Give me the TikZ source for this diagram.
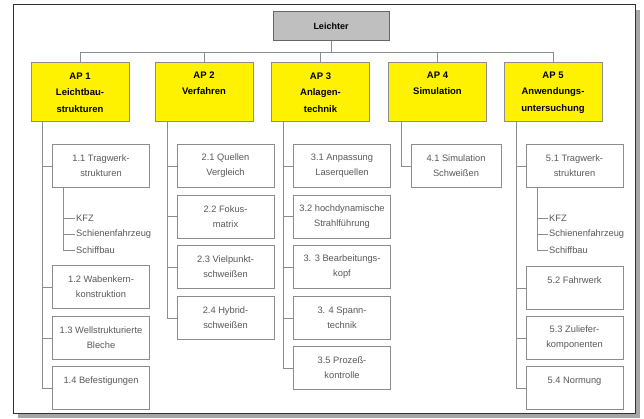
\documentclass[tikz,border=0pt]{standalone}
\usepackage{fontspec}
\setmainfont{Liberation Sans}
\begin{document}
\begin{tikzpicture}[x=1pt,y=-1pt,
  line/.style={draw=black!45,line width=0.9pt},
  topbox/.style={draw=black!60,fill=black!25,line width=1pt,minimum width=116,minimum height=29,inner sep=0,font=\fontsize{9}{10}\selectfont\bfseries},
  apbox/.style={draw=black!45,fill=yellow,line width=1pt,minimum width=98,minimum height=59,inner sep=0,align=center,font=\fontsize{9.5}{16.5}\selectfont\bfseries},
  subbox/.style={draw=black!45,fill=white,line width=0.9pt,minimum width=97,minimum height=43,inner sep=0,align=center,text=black!65,font=\fontsize{9.3}{15}\selectfont},
  item/.style={inner sep=1pt,anchor=west,text=black!65,font=\fontsize{9.3}{15}\selectfont}
]
\useasboundingbox (0,0) rectangle (644,419);
% frame with shadow
\fill[black!35] (18,10) rectangle (640,418);
\draw[fill=white,draw=black!80,line width=1pt] (13,5) rectangle (635,413);

% top
\node[topbox] (top) at (331,26.5) {Leichter};

% AP boxes
\node[apbox] (ap1) at (80,92.5) {AP 1\\Leichtbau-\\strukturen};
\node[apbox] (ap2) at (204,92.5) {AP 2\\Verfahren\\[2pt]~};
\node[apbox] (ap3) at (320.5,92.5) {AP 3\\Anlagen-\\technik};
\node[apbox] (ap4) at (437.5,92.5) {AP 4\\Simulation\\[2pt]~};
\node[apbox] (ap5) at (553,92.5) {AP 5\\Anwendungs-\\untersuchung};

\foreach \a in {ap1,ap2,ap3,ap4,ap5}
  \draw[line] (top.south) -- ++(0,11) -| (\a.north);

% AP1 column
\node[subbox] (b11) at (101,166) {1.1 Tragwerk-\\strukturen};
\node[item] (k1) at (75,218) {KFZ};
\node[item] (s1) at (75,234) {Schienenfahrzeug};
\node[item] (f1) at (75,250) {Schiffbau};
\node[subbox] (b12) at (101,287) {1.2 Wabenkern-\\konstruktion};
\node[subbox] (b13) at (101,338) {1.3 Wellstrukturierte\\Bleche};
\node[subbox] (b14) at (101,388) {1.4 Befestigungen\\~};
\foreach \b in {b11,b12,b13,b14}
  \draw[line] ([xshift=12]ap1.south west) |- (\b.west);
\foreach \i in {k1,s1,f1}
  \draw[line] ([xshift=11]b11.south west) |- (\i.west);

% AP2 column
\node[subbox] (b21) at (225.5,166) {2.1 Quellen\\Vergleich};
\node[subbox] (b22) at (225.5,216.5) {2.2 Fokus-\\matrix};
\node[subbox] (b23) at (225.5,267) {2.3 Vielpunkt-\\schweißen};
\node[subbox] (b24) at (225.5,318) {2.4 Hybrid-\\schweißen};
\foreach \b in {b21,b22,b23,b24}
  \draw[line] ([xshift=13]ap2.south west) |- (\b.west);

% AP3 column
\node[subbox] (b31) at (342,166) {3.1 Anpassung\\Laserquellen};
\node[subbox] (b32) at (342,216.5) {3.2 hochdynamische\\Strahlführung};
\node[subbox] (b33) at (342,267) {3. 3 Bearbeitungs-\\kopf};
\node[subbox] (b34) at (342,318) {3. 4 Spann-\\technik};
\node[subbox] (b35) at (342,368) {3.5 Prozeß-\\kontrolle};
\foreach \b in {b31,b32,b33,b34,b35}
  \draw[line] ([xshift=12]ap3.south west) |- (\b.west);

% AP4 column
\node[subbox,minimum width=90] (b41) at (456,166) {4.1 Simulation\\Schweißen};
\draw[line] ([xshift=13]ap4.south west) |- (b41.west);

% AP5 column
\node[subbox] (b51) at (574.5,166) {5.1 Tragwerk-\\strukturen};
\node[item] (k5) at (548,218) {KFZ};
\node[item] (s5) at (548,234) {Schienenfahrzeug};
\node[item] (f5) at (548,250) {Schiffbau};
\node[subbox] (b52) at (574.5,288) {5.2 Fahrwerk\\~};
\node[subbox] (b53) at (574.5,338) {5.3 Zuliefer-\\komponenten};
\node[subbox] (b54) at (574.5,388) {5.4 Normung\\~};
\foreach \b in {b51,b52,b53,b54}
  \draw[line] ([xshift=13]ap5.south west) |- (\b.west);
\foreach \i in {k5,s5,f5}
  \draw[line] ([xshift=12]b51.south west) |- (\i.west);
\end{tikzpicture}
\end{document}
